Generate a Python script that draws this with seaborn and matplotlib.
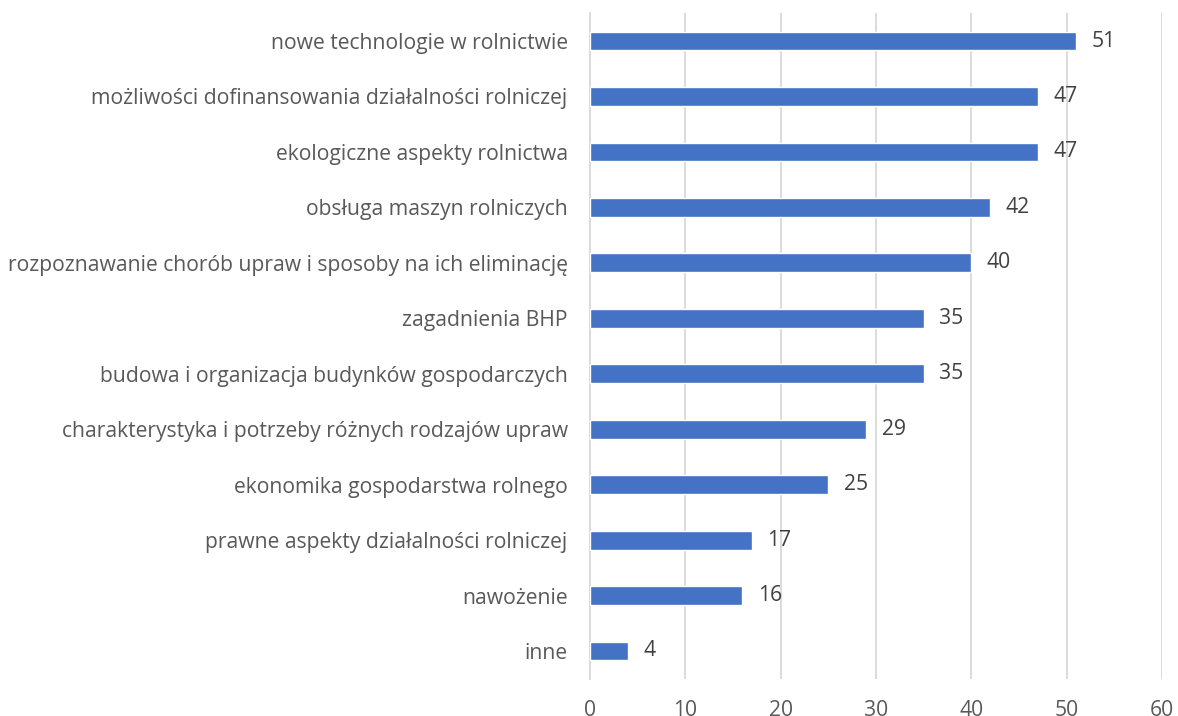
import matplotlib
matplotlib.use("Agg")
import matplotlib.pyplot as plt
import seaborn as sns
import pandas as pd

categories = [
    "nowe technologie w rolnictwie",
    "możliwości dofinansowania działalności rolniczej",
    "ekologiczne aspekty rolnictwa",
    "obsługa maszyn rolniczych",
    "rozpoznawanie chorób upraw i sposoby na ich eliminację",
    "zagadnienia BHP",
    "budowa i organizacja budynków gospodarczych",
    "charakterystyka i potrzeby różnych rodzajów upraw",
    "ekonomika gospodarstwa rolnego",
    "prawne aspekty działalności rolniczej",
    "nawożenie",
    "inne",
]
values = [51, 47, 47, 42, 40, 35, 35, 29, 25, 17, 16, 4]
x_ticks = [0, 10, 20, 30, 40, 50, 60]

df = pd.DataFrame({"cat": categories, "val": values})

sns.set_theme(style="white")
plt.rcParams["font.family"] = ["Open Sans", "DejaVu Sans"]

fig = plt.figure(figsize=(11.78, 7.16), dpi=100)
ax = fig.add_axes([0.5008, 0.0521, 0.4856, 0.9293])

sns.barplot(data=df, x="val", y="cat", color="#4472C4", width=0.34,
            saturation=1, ax=ax, zorder=3)

ax.set_xlim(0, 60)
ax.set_xticks(x_ticks)
ax.xaxis.grid(True, color="#d9d9d9", linewidth=1.3, zorder=0)
ax.set_axisbelow(True)
for s in ["top", "right", "bottom"]:
    ax.spines[s].set_visible(False)
ax.spines["left"].set_color("#d9d9d9")
ax.spines["left"].set_linewidth(1.3)
ax.set_xlabel("")
ax.set_ylabel("")
ax.tick_params(axis="y", length=0, pad=16, labelsize=15.2, labelcolor="#595959")
ax.tick_params(axis="x", length=0, pad=15, labelsize=15.2, labelcolor="#595959")

for cont in ax.containers:
    ax.bar_label(cont, labels=[str(v) for v in values], padding=11,
                 fontsize=15.2, color="#404040")

fig.savefig("out.png", dpi=100)
